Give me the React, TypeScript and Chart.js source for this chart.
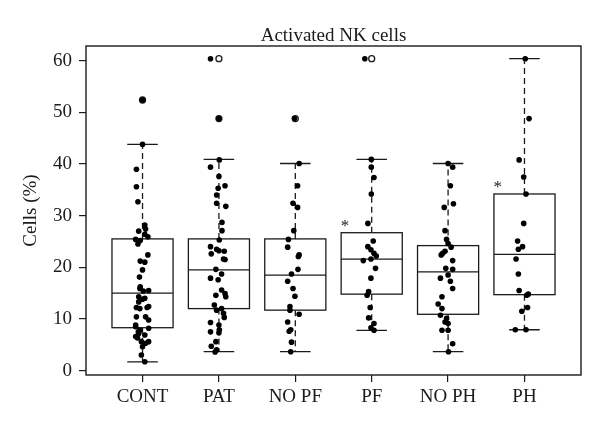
import React, { useEffect, useRef } from "react";
import { Chart, registerables } from "chart.js";

Chart.register(...registerables);

const categories = ["CONT", "PAT", "NO PF", "PF", "NO PH", "PH"];
const yTickValues = [0, 10, 20, 30, 40, 50, 60];

// box statistics
const whiskerLow = [1.7, 3.65, 3.65, 7.8, 3.65, 7.9];
const quartile1 = [8.3, 12.0, 11.7, 14.8, 10.9, 14.7];
const medians = [15.0, 19.5, 18.5, 21.6, 19.1, 22.5];
const quartile3 = [25.5, 25.5, 25.5, 26.7, 24.2, 34.2];
const whiskerHigh = [43.8, 40.9, 40.1, 40.9, 40.1, 60.4];
const outliers = [[52.4], [48.8, 60.4], [48.8], [60.4], [], []];
const significant = [false, false, false, true, false, true];

// individual points (value, horizontal jitter)
const contValues = [52.4, 43.8, 39.0, 35.6, 32.7, 28.2, 27.4, 27.0, 26.4, 25.9, 25.4, 25.2, 24.5, 22.4, 21.2, 21.0, 19.5, 18.1, 16.2, 15.9, 15.5, 15.4, 14.3, 14.0, 13.8, 13.3, 12.4, 12.2, 12.2, 12.0, 10.4, 10.4, 9.8, 8.8, 8.5, 8.2, 7.8, 7.5, 7.2, 6.9, 6.6, 6.3, 5.6, 5.6, 5.3, 4.6, 3.0, 1.7];
const contJitter = [0, 0, -0.08, -0.08, -0.06, 0.03, 0.04, -0.05, 0.03, 0.07, -0.09, -0.03, -0.06, 0.07, -0.03, 0.03, 0.0, -0.04, -0.03, -0.035, 0.08, 0.01, -0.05, 0.03, 0.0, -0.05, 0.08, -0.08, 0.06, -0.035, 0.04, -0.08, 0.08, -0.09, -0.09, 0.08, -0.035, -0.055, -0.05, 0.03, -0.09, -0.065, -0.015, 0.08, 0.04, 0.0, -0.015, 0.03];

const patValues = [60.4, 48.8, 40.8, 39.4, 37.6, 35.8, 35.3, 34.0, 32.4, 31.8, 28.7, 27.1, 25.3, 24.0, 23.5, 23.2, 23.1, 22.6, 21.6, 21.5, 19.6, 18.7, 17.9, 17.6, 15.6, 14.9, 14.6, 14.3, 12.7, 12.0, 11.7, 11.1, 10.3, 9.3, 8.8, 7.9, 7.5, 7.3, 5.6, 4.7, 4.0, 3.6];
const patJitter = [-0.11, 0, 0.005, -0.11, 0, 0.08, -0.01, -0.03, -0.03, 0.09, 0.04, 0.04, 0.005, -0.11, -0.03, 0, 0.07, -0.1, 0.06, 0.08, -0.04, 0.035, -0.11, -0.01, 0.035, 0.08, -0.04, 0.09, -0.06, 0.035, -0.03, 0.06, 0.07, -0.11, 0, 0.005, -0.11, 0, -0.04, -0.1, -0.03, -0.05];

const noPfValues = [48.8, 40.1, 35.8, 32.4, 31.6, 27.1, 25.4, 23.9, 22.4, 22.1, 19.6, 18.7, 17.3, 15.9, 14.4, 12.4, 11.7, 10.9, 9.4, 7.9, 7.6, 5.5, 3.65];
const noPfJitter = [-0.01, 0.05, 0.03, -0.03, 0.03, -0.02, -0.09, -0.1, 0.05, 0.04, 0.035, -0.05, -0.1, -0.03, -0.005, -0.07, -0.07, 0.05, -0.1, -0.06, -0.08, -0.05, -0.06];

const pfValues = [60.4, 40.9, 39.4, 37.4, 34.2, 28.5, 25.1, 24.0, 23.4, 22.7, 22.2, 21.6, 21.3, 19.8, 17.9, 15.3, 14.6, 12.2, 10.2, 9.1, 8.3, 7.8];
const pfJitter = [-0.09, -0.005, -0.005, 0.03, -0.005, -0.05, 0.02, -0.05, -0.01, 0.03, 0.06, -0.01, -0.11, 0.05, -0.01, -0.04, -0.06, -0.02, -0.04, 0.03, -0.01, 0.03];

const noPhValues = [40.1, 39.4, 35.8, 32.3, 31.6, 27.1, 25.4, 24.6, 23.9, 23.1, 22.7, 22.4, 21.3, 19.8, 19.6, 18.5, 17.9, 17.3, 15.9, 14.3, 12.9, 12.0, 10.7, 10.1, 9.4, 9.1, 7.8, 7.8, 5.2, 3.65];
const noPhJitter = [0, 0.06, 0.03, 0.07, -0.05, -0.04, -0.02, 0, 0.04, -0.04, -0.07, -0.09, 0.06, -0.03, 0.06, 0, -0.1, 0.03, 0.06, -0.08, -0.13, -0.08, -0.1, -0.02, -0.04, 0, -0.08, 0, 0.06, 0.005];

const phValues = [60.4, 48.8, 40.8, 37.5, 34.2, 28.5, 25.1, 24.0, 23.5, 21.6, 18.7, 15.5, 14.8, 14.6, 12.2, 11.5, 7.9, 7.9];
const phJitter = [0.01, 0.06, -0.07, -0.01, 0.02, -0.01, -0.09, -0.025, -0.08, -0.11, -0.08, -0.07, 0.05, 0.03, 0.04, -0.035, -0.12, 0.02];

const groupValues = [contValues, patValues, noPfValues, pfValues, noPhValues, phValues];
const groupJitter = [contJitter, patJitter, noPfJitter, pfJitter, noPhJitter, phJitter];

const FONT = "'Liberation Serif', 'Times New Roman', serif";
const INK = "#1b1b1b";

const boxPlugin = {
  id: "boxPlot",
  beforeDatasetsDraw(chart: any) {
    const { ctx, scales } = chart;
    const x = scales.x;
    const y = scales.y;
    ctx.save();
    ctx.strokeStyle = INK;
    ctx.lineWidth = 1.3;
    categories.forEach((_, i) => {
      const c = i + 1;
      const cx = x.getPixelForValue(c);
      const bl = x.getPixelForValue(c - 0.4);
      const br = x.getPixelForValue(c + 0.4);
      const sl = x.getPixelForValue(c - 0.2);
      const sr = x.getPixelForValue(c + 0.2);
      const yq1 = y.getPixelForValue(quartile1[i]);
      const yq3 = y.getPixelForValue(quartile3[i]);
      const ym = y.getPixelForValue(medians[i]);
      const ylo = y.getPixelForValue(whiskerLow[i]);
      const yhi = y.getPixelForValue(whiskerHigh[i]);
      // whiskers (dashed)
      ctx.setLineDash([6, 4]);
      ctx.beginPath();
      ctx.moveTo(cx, yq3);
      ctx.lineTo(cx, yhi);
      ctx.moveTo(cx, yq1);
      ctx.lineTo(cx, ylo);
      ctx.stroke();
      ctx.setLineDash([]);
      // staples
      ctx.beginPath();
      ctx.moveTo(sl, yhi);
      ctx.lineTo(sr, yhi);
      ctx.moveTo(sl, ylo);
      ctx.lineTo(sr, ylo);
      ctx.stroke();
      // box
      ctx.strokeRect(bl, yq3, br - bl, yq1 - yq3);
      // median
      ctx.beginPath();
      ctx.moveTo(bl, ym);
      ctx.lineTo(br, ym);
      ctx.stroke();
      // outliers (open circles)
      outliers[i].forEach((v) => {
        ctx.beginPath();
        ctx.arc(cx, y.getPixelForValue(v), 3, 0, Math.PI * 2);
        ctx.stroke();
      });
      // significance marks
      if (significant[i]) {
        ctx.fillStyle = INK;
        ctx.font = `17px ${FONT}`;
        ctx.textAlign = "center";
        ctx.textBaseline = "middle";
        ctx.fillText("*", x.getPixelForValue(c - 0.35), y.getPixelForValue(quartile3[i] + 1.2));
      }
    });
    ctx.restore();
  },
  afterDraw(chart: any) {
    const { ctx, chartArea } = chart;
    ctx.save();
    ctx.strokeStyle = INK;
    ctx.lineWidth = 1.4;
    ctx.strokeRect(chartArea.left, chartArea.top, chartArea.right - chartArea.left, chartArea.bottom - chartArea.top);
    ctx.restore();
  },
};

export default function App() {
  const canvasRef = useRef<HTMLCanvasElement | null>(null);

  useEffect(() => {
    if (!canvasRef.current) return;
    const points: { x: number; y: number }[] = [];
    groupValues.forEach((vals, i) => {
      vals.forEach((v, k) => {
        points.push({ x: i + 1 + groupJitter[i][k], y: v });
      });
    });

    const chart = new Chart(canvasRef.current, {
      type: "scatter",
      data: {
        datasets: [
          {
            data: points,
            backgroundColor: "#000",
            borderColor: "#000",
            borderWidth: 0,
            pointRadius: 2.8,
            pointHoverRadius: 2.8,
          },
        ],
      },
      options: {
        animation: false,
        responsive: false,
        devicePixelRatio: 1,
        layout: { padding: { left: 0, right: 19, top: 0, bottom: 0 } },
        plugins: {
          legend: { display: false },
          tooltip: { enabled: false },
          title: {
            display: true,
            text: "Activated NK cells",
            fullSize: false,
            color: INK,
            font: { family: FONT, size: 19, weight: "normal", lineHeight: 1 },
            padding: { top: 27, bottom: 0 },
          },
        },
        scales: {
          x: {
            type: "linear",
            min: 0.26,
            max: 6.74,
            afterBuildTicks: (scale: any) => {
              scale.ticks = categories.map((_, i) => ({ value: i + 1 }));
            },
            afterFit: (scale: any) => {
              scale.height = 55;
            },
            ticks: {
              autoSkip: false,
              maxRotation: 0,
              padding: 4,
              color: INK,
              font: { family: FONT, size: 19 },
              callback: (v: any) => categories[Math.round(v) - 1] ?? "",
            },
            grid: { drawOnChartArea: false, drawTicks: true, tickLength: 7, color: INK, lineWidth: 1.2 },
            border: { display: false },
          },
          y: {
            type: "linear",
            min: -0.86,
            max: 62.86,
            afterBuildTicks: (scale: any) => {
              scale.ticks = yTickValues.map((v) => ({ value: v }));
            },
            afterFit: (scale: any) => {
              scale.width = 86;
            },
            title: {
              display: true,
              text: "Cells (%)",
              color: INK,
              font: { family: FONT, size: 19 },
              padding: { top: 20, bottom: 0 },
            },
            ticks: {
              padding: 7,
              color: INK,
              font: { family: FONT, size: 19 },
              callback: (v: any) => String(v),
            },
            grid: { drawOnChartArea: false, drawTicks: true, tickLength: 7, color: INK, lineWidth: 1.2 },
            border: { display: false },
          },
        },
      },
      plugins: [boxPlugin],
    });
    return () => chart.destroy();
  }, []);

  return (
    <div style={{ position: "absolute", left: 0, top: 0, width: 600, height: 430, background: "#fff" }}>
      <canvas ref={canvasRef} width={600} height={430} />
    </div>
  );
}
